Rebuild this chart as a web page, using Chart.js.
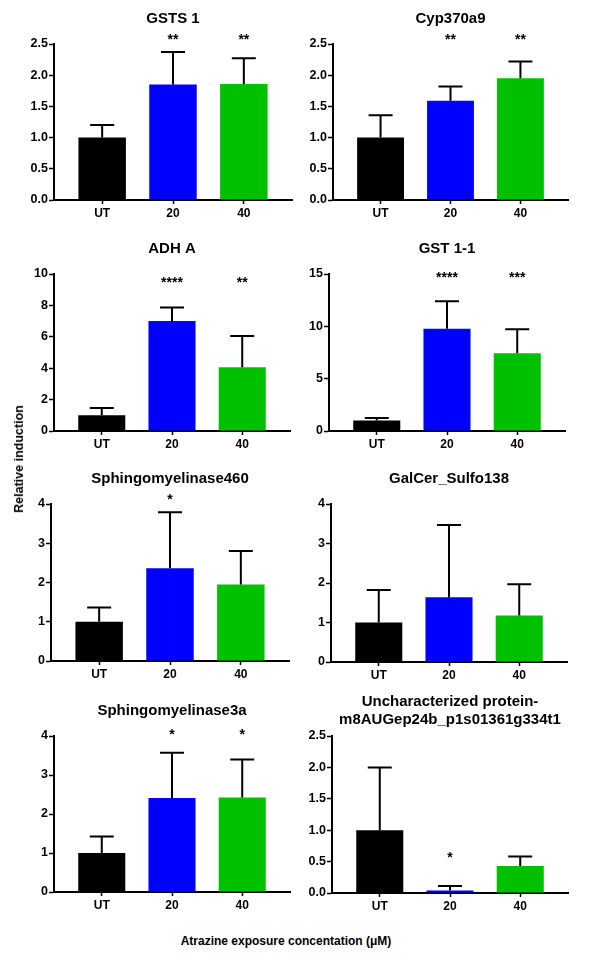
<!DOCTYPE html>
<html>
<head>
<meta charset="utf-8">
<script src="https://cdn.jsdelivr.net/npm/chart.js@4/dist/chart.umd.min.js"></script>
<style>
html, body { margin: 0; padding: 0; background: #fff; }
#wrap { position: relative; width: 601px; height: 959px; overflow: hidden; background: #fff;
        font-family: "Liberation Sans", Arial, sans-serif; }
#wrap canvas { position: absolute; }
.lbl { position: absolute; font-weight: bold; color: #000; white-space: nowrap; z-index: 5; }
#ylab { left: 18.5px; top: 459px; font-size: 12.5px; transform: translate(-50%, -50%) rotate(-90deg); }
#xlab { left: 286px; top: 941px; font-size: 12px; transform: translate(-50%, -50%); }
</style>
</head>
<body>
<div id="wrap">
  <div class="lbl" id="ylab">Relative induction</div>
  <div class="lbl" id="xlab">Atrazine exposure concentation (μM)</div>
</div>
<script>
// ---------------- DATA ----------------
const categories = ['UT', '20', '40'];
const barColors = ['#000000', '#0000ff', '#00c000'];

const titles = [
  'GSTS 1',
  'Cyp370a9',
  'ADH A',
  'GST 1-1',
  'Sphingomyelinase460',
  'GalCer_Sulfo138',
  'Sphingomyelinase3a',
  ['Uncharacterized protein-', 'm8AUGep24b_p1s01361g334t1']
];

const gsts1Mean = [1.00, 1.85, 1.86];
const gsts1Err  = [0.20, 0.52, 0.41];
const gsts1Stars = ['', '**', '**'];

const cyp370a9Mean = [1.00, 1.59, 1.95];
const cyp370a9Err  = [0.36, 0.23, 0.27];
const cyp370a9Stars = ['', '**', '**'];

const adhAMean = [1.00, 7.00, 4.06];
const adhAErr  = [0.47, 0.86, 1.99];
const adhAStars = ['', '****', '**'];

const gst11Mean = [1.00, 9.78, 7.44];
const gst11Err  = [0.25, 2.62, 2.27];
const gst11Stars = ['', '****', '***'];

const sph460Mean = [1.00, 2.36, 1.95];
const sph460Err  = [0.36, 1.43, 0.85];
const sph460Stars = ['', '*', ''];

const galcerMean = [1.00, 1.64, 1.18];
const galcerErr  = [0.82, 1.83, 0.79];
const galcerStars = ['', '', ''];

const sph3aMean = [1.00, 2.41, 2.42];
const sph3aErr  = [0.42, 1.16, 0.98];
const sph3aStars = ['', '*', '*'];

const unchMean = [1.00, 0.04, 0.43];
const unchErr  = [1.00, 0.07, 0.15];
const unchStars = ['', '*', ''];

// y-axis maxima and tick steps
const yMaxes = [2.5, 2.5, 10, 15, 4, 4, 4, 2.5];
const ySteps = [0.5, 0.5, 2, 5, 1, 1, 1, 0.5];
// value level at which significance marks sit
const starLevels = [2.61, 2.61, 9.6, 14.9, 4.18, 0, 4.1, 0.6];

// ---------------- LAYOUT (plot boxes: left, right, top, bottom in px) ----------------
const plotBoxes = [
  [54, 292, 44, 200], [333, 568, 44, 200],
  [54, 290, 274, 431], [329, 565, 274, 431],
  [51, 289, 504, 661], [331, 567, 504, 662],
  [54, 290, 736, 892], [332, 568, 736, 893]
];

const panels = [
  { mean: gsts1Mean, err: gsts1Err, stars: gsts1Stars },
  { mean: cyp370a9Mean, err: cyp370a9Err, stars: cyp370a9Stars },
  { mean: adhAMean, err: adhAErr, stars: adhAStars },
  { mean: gst11Mean, err: gst11Err, stars: gst11Stars },
  { mean: sph460Mean, err: sph460Err, stars: sph460Stars },
  { mean: galcerMean, err: galcerErr, stars: galcerStars },
  { mean: sph3aMean, err: sph3aErr, stars: sph3aStars },
  { mean: unchMean, err: unchErr, stars: unchStars }
];

const FONT = '"Liberation Sans", Arial, sans-serif';
const Y_AXIS_W = 40, X_AXIS_H = 28, TITLE_H = 44;

function makeErrPlugin(p, starLevel) {
  return {
    id: 'errStars',
    afterDatasetsDraw(chart) {
      const ctx = chart.ctx;
      const ys = chart.scales.y;
      const meta = chart.getDatasetMeta(0);
      ctx.save();
      ctx.strokeStyle = '#000';
      ctx.lineWidth = 2;
      meta.data.forEach((bar, i) => {
        const top = ys.getPixelForValue(p.mean[i] + p.err[i]);
        ctx.beginPath();
        ctx.moveTo(bar.x, bar.y);
        ctx.lineTo(bar.x, top);
        ctx.moveTo(bar.x - 12, top);
        ctx.lineTo(bar.x + 12, top);
        ctx.stroke();
        if (p.stars[i]) {
          ctx.fillStyle = '#000';
          ctx.font = 'bold 14px ' + FONT;
          ctx.textAlign = 'center';
          ctx.textBaseline = 'middle';
          ctx.fillText(p.stars[i], bar.x, ys.getPixelForValue(starLevel) + 3);
        }
      });
      ctx.restore();
    }
  };
}

const wrap = document.getElementById('wrap');

panels.forEach((p, k) => {
  const [L, R, T, B] = plotBoxes[k];
  const cv = document.createElement('canvas');
  const left = L - Y_AXIS_W;
  const top = T - TITLE_H;
  const w = R - left + 2;
  const h = TITLE_H + (B - T) + X_AXIS_H;
  cv.width = w; cv.height = h;
  cv.style.left = left + 'px'; cv.style.top = top + 'px';
  cv.style.width = w + 'px'; cv.style.height = h + 'px';
  wrap.appendChild(cv);

  const twoLine = Array.isArray(titles[k]);
  const step = ySteps[k];

  new Chart(cv, {
    type: 'bar',
    data: {
      datasets: [{
        data: p.mean.map((v, i) => ({ x: i, y: v })),
        backgroundColor: barColors,
        borderWidth: 0,
        barPercentage: 0.67,
        categoryPercentage: 1
      }]
    },
    options: {
      responsive: false,
      animation: false,
      devicePixelRatio: 1,
      layout: { padding: { left: 0, right: 2, top: 0, bottom: 0 } },
      plugins: {
        legend: { display: false },
        tooltip: { enabled: false },
        title: {
          display: true,
          text: titles[k],
          fullSize: false,
          color: '#000',
          font: { family: FONT, size: 15, weight: 'bold', lineHeight: 1.2 },
          padding: twoLine ? { top: 1, bottom: 7 } : { top: 10, bottom: 16 }
        }
      },
      scales: {
        x: {
          type: 'linear',
          min: -0.68,
          max: 2.68,
          offset: false,
          afterBuildTicks: ax => { ax.ticks = categories.map((c, i) => ({ value: i })); },
          afterFit: ax => { ax.height = X_AXIS_H; },
          ticks: {
            callback: v => categories[v],
            color: '#000',
            font: { family: FONT, size: 12, weight: 'bold' },
            padding: 2,
            maxRotation: 0,
            autoSkip: false
          },
          grid: { display: true, drawOnChartArea: false, offset: false,
                  tickLength: 4, tickWidth: 1.5, tickColor: '#000' },
          border: { display: true, color: '#000', width: 2 }
        },
        y: {
          min: 0,
          max: yMaxes[k],
          afterFit: ax => { ax.width = Y_AXIS_W; },
          ticks: {
            stepSize: step,
            callback: v => step < 1 ? Number(v).toFixed(1) : Number(v).toFixed(0),
            color: '#000',
            font: { family: FONT, size: 12.5, weight: 'bold' },
            padding: 1
          },
          grid: { display: true, drawOnChartArea: false,
                  tickLength: 5, tickWidth: 1.5, tickColor: '#000' },
          border: { display: true, color: '#000', width: 2 }
        }
      }
    },
    plugins: [makeErrPlugin(p, starLevels[k])]
  });
});
</script>
</body>
</html>
